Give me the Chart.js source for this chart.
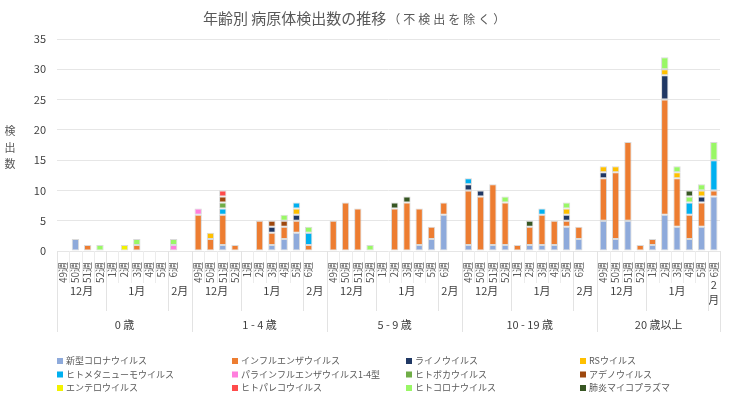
<!DOCTYPE html>
<html lang="ja">
<head>
<meta charset="utf-8">
<title>年齢別 病原体検出数の推移</title>
<script src="https://cdn.jsdelivr.net/npm/chart.js@4/dist/chart.umd.min.js"></script>
<style>
  html, body { margin: 0; padding: 0; background: #fff; }
  canvas { display: block; }
</style>
</head>
<body>
<canvas id="myChart" width="740" height="398"></canvas>
<script>
// 週・月・年齢のラベル
const weeks = ['49週', '50週', '51週', '52週', '1週', '2週', '3週', '4週', '5週', '6週'];
const monthNames = ['12月', '1月', '2月'];
const monthSpans = [4, 5, 1];          // 12月=49〜52週, 1月=1〜5週, 2月=6週
const ageGroups = ['0 歳', '1 - 4 歳', '5 - 9 歳', '10 - 19 歳', '20 歳以上'];

// 各ウイルスの検出数（年齢群ごとに 49週〜6週 の10件ずつ）
const covid = [0,2,0,0,0,0,0,0,0,0,  0,0,1,0,0,0,1,2,3,0,  0,0,0,0,0,0,0,1,2,6,  1,0,1,1,0,1,1,1,4,2,  5,2,5,0,1,6,4,2,4,9];
const flu = [0,0,1,0,0,0,1,0,0,0,  6,2,5,1,0,5,2,2,2,1,  5,8,7,0,0,7,8,6,2,2,  9,9,10,7,1,3,5,4,1,2,  7,11,13,1,1,19,8,4,4,1];
const rhino = [0,0,0,0,0,0,0,0,0,0,  0,0,0,0,0,0,1,0,1,0,  0,0,0,0,0,0,0,0,0,0,  1,1,0,0,0,0,0,0,1,0,  1,0,0,0,0,4,0,0,1,0];
const rsv = [0,0,0,0,0,0,0,0,0,0,  0,1,0,0,0,0,0,0,1,0,  0,0,0,0,0,0,0,0,0,0,  0,0,0,0,0,0,0,0,1,0,  1,1,0,0,0,1,1,0,1,0];
const hmpv = [0,0,0,0,0,0,0,0,0,0,  0,0,1,0,0,0,0,0,1,2,  0,0,0,0,0,0,0,0,0,0,  1,0,0,0,0,0,1,0,0,0,  0,0,0,0,0,0,0,2,0,5];
const para = [0,0,0,0,0,0,0,0,0,1,  1,0,0,0,0,0,0,0,0,0,  0,0,0,0,0,0,0,0,0,0,  0,0,0,0,0,0,0,0,0,0,  0,0,0,0,0,0,0,0,0,0];
const boca = [0,0,0,0,0,0,0,0,0,0,  0,0,1,0,0,0,0,0,0,0,  0,0,0,0,0,0,0,0,0,0,  0,0,0,0,0,0,0,0,0,0,  0,0,0,0,0,0,0,0,0,0];
const adeno = [0,0,0,0,0,0,0,0,0,0,  0,0,1,0,0,0,1,1,0,0,  0,0,0,0,0,0,0,0,0,0,  0,0,0,0,0,0,0,0,0,0,  0,0,0,0,0,0,0,0,0,0];
const entero = [0,0,0,0,0,1,0,0,0,0,  0,0,0,0,0,0,0,0,0,0,  0,0,0,0,0,0,0,0,0,0,  0,0,0,0,0,0,0,0,0,0,  0,0,0,0,0,0,0,0,0,0];
const pareco = [0,0,0,0,0,0,0,0,0,0,  0,0,1,0,0,0,0,0,0,0,  0,0,0,0,0,0,0,0,0,0,  0,0,0,0,0,0,0,0,0,0,  0,0,0,0,0,0,0,0,0,0];
const hcov = [0,0,0,1,0,0,1,0,0,1,  0,0,0,0,0,0,0,1,0,1,  0,0,0,1,0,0,0,0,0,0,  0,0,0,1,0,0,0,0,1,0,  0,0,0,0,0,2,1,1,1,3];
const mycoplasma = [0,0,0,0,0,0,0,0,0,0,  0,0,0,0,0,0,0,0,0,0,  0,0,0,0,0,1,1,0,0,0,  0,0,0,0,0,1,0,0,0,0,  0,0,0,0,0,0,0,1,0,0];

const series = [
  { label: '新型コロナウイルス', data: covid, color: '#8eaadb' },
  { label: 'インフルエンザウイルス', data: flu, color: '#ed7d31' },
  { label: 'ライノウイルス', data: rhino, color: '#203864' },
  { label: 'RSウイルス', data: rsv, color: '#ffc000' },
  { label: 'ヒトメタニューモウイルス', data: hmpv, color: '#00b0f0' },
  { label: 'パラインフルエンザウイルス1-4型', data: para, color: '#ff7fdd' },
  { label: 'ヒトボカウイルス', data: boca, color: '#70ad47' },
  { label: 'アデノウイルス', data: adeno, color: '#9e480e' },
  { label: 'エンテロウイルス', data: entero, color: '#f2f200' },
  { label: 'ヒトパレコウイルス', data: pareco, color: '#ff4b4b' },
  { label: 'ヒトコロナウイルス', data: hcov, color: '#99f766' },
  { label: '肺炎マイコプラズマ', data: mycoplasma, color: '#375623' }
];

const FONT = "'Noto Sans CJK JP', 'Noto Sans', sans-serif";

// 年齢群の間に空の列を1つずつ入れる
const labels = [];
ageGroups.forEach((g, gi) => {
  weeks.forEach(w => labels.push(w));
  if (gi < ageGroups.length - 1) labels.push('');
});

function spread(values) {
  const out = [];
  ageGroups.forEach((g, gi) => {
    for (let i = 0; i < weeks.length; i++) {
      const v = values[gi * weeks.length + i];
      out.push(v === 0 ? null : v);
    }
    if (gi < ageGroups.length - 1) out.push(null);
  });
  return out;
}

const datasets = series.map(s => ({
  label: s.label,
  data: spread(s.data),
  backgroundColor: s.color,
  borderColor: 'rgba(150,150,150,0.35)',
  borderWidth: 1,
  borderSkipped: false,
  categoryPercentage: 1.0,
  barPercentage: 0.6
}));

// タイトル・軸タイトル・多段ラベル・凡例を描く
const decorations = {
  id: 'decorations',
  afterDraw(chart) {
    const ctx = chart.ctx;
    const x = chart.scales.x;
    const area = chart.chartArea;
    const slot = x.getPixelForValue(1) - x.getPixelForValue(0);
    const left = i => x.getPixelForValue(i) - slot / 2;
    const bottom = area.bottom;

    ctx.save();

    // タイトル
    ctx.fillStyle = '#595959';
    ctx.textBaseline = 'middle';
    ctx.textAlign = 'left';
    ctx.font = '15px ' + FONT;
    const main = '年齢別 病原体検出数の推移';
    const sub = '（不検出を除く）';
    const mainW = ctx.measureText(main).width;
    ctx.fillText(main, 203, 18);
    ctx.font = '12px ' + FONT;
    const subPitch = 15;
    [...sub].forEach((c, i) => ctx.fillText(c, 203 + mainW + 2 + i * subPitch, 19));

    // 縦軸タイトル
    ctx.font = '11px ' + FONT;
    ctx.textAlign = 'center';
    [...'検出数'].forEach((c, i) => ctx.fillText(c, 10, 131 + i * 16.5));

    // 区切り線
    ctx.lineWidth = 1;
    const vline = (px, y2, col) => {
      ctx.strokeStyle = col;
      ctx.beginPath();
      ctx.moveTo(Math.round(px) + 0.5, bottom);
      ctx.lineTo(Math.round(px) + 0.5, y2);
      ctx.stroke();
    };

    let idx = 0;
    ageGroups.forEach((g, gi) => {
      const gStart = idx;
      const gLen = weeks.length + (gi < ageGroups.length - 1 ? 1 : 0);
      // 週の区切り
      for (let i = 1; i < weeks.length; i++) vline(left(gStart + i), bottom + 32, '#ececec');
      // 月
      let m = gStart;
      ctx.fillStyle = '#404040';
      ctx.font = '11px ' + FONT;
      monthSpans.forEach((span, mi) => {
        let len = span;
        if (mi === monthSpans.length - 1) len = gStart + gLen - m;
        const x0 = left(m);
        const x1 = left(m) + len * slot;
        const name = monthNames[mi];
        const tw = ctx.measureText(name).width;
        if (tw < x1 - x0 - 2) {
          ctx.fillText(name, (x0 + x1) / 2, bottom + 40);
        } else {
          [...name].forEach((c, ci) => ctx.fillText(c, (x0 + x1) / 2, bottom + 34 + ci * 15));
        }
        if (mi > 0) vline(x0, bottom + 60, '#e3e3e3');
        m += span;
      });
      // 年齢群
      const ax0 = left(gStart);
      const ax1 = ax0 + gLen * slot;
      ctx.fillText(g, (ax0 + ax1) / 2, bottom + 74);
      vline(ax0, bottom + 81, '#e3e3e3');
      idx += gLen;
    });
    vline(area.right, bottom + 81, '#e3e3e3');

    // 凡例
    const colX = [60, 235, 409, 583];
    const rowY = [361, 374.5, 388];
    ctx.font = '9px ' + FONT;
    ctx.textAlign = 'left';
    chart.data.datasets.forEach((ds, i) => {
      const cx = colX[i % 4];
      const cy = rowY[Math.floor(i / 4)];
      ctx.fillStyle = ds.backgroundColor;
      ctx.fillRect(cx - 3, cy - 3, 6, 6);
      ctx.fillStyle = '#595959';
      ctx.fillText(ds.label, cx + 6, cy);
    });

    ctx.restore();
  }
};

const config = {
  type: 'bar',
  data: { labels: labels, datasets: datasets },
  options: {
    responsive: false,
    animation: false,
    layout: { padding: { top: 39, right: 20, left: 0, bottom: 0 } },
    plugins: {
      legend: { display: false },
      title: { display: false },
      tooltip: { enabled: false }
    },
    scales: {
      x: {
        stacked: true,
        grid: { display: false },
        border: { display: false },
        ticks: {
          autoSkip: false,
          minRotation: 90,
          maxRotation: 90,
          padding: 3,
          color: '#595959',
          font: { size: 10, family: FONT }
        },
        afterFit: s => { s.height = 147; }
      },
      y: {
        stacked: true,
        min: 0,
        max: 35,
        ticks: { stepSize: 5, padding: 11, color: '#404040', font: { size: 11, family: FONT } },
        grid: { color: '#e6e6e6', drawTicks: false },
        border: { display: false },
        afterFit: s => { s.width = 57; }
      }
    }
  },
  plugins: [decorations]
};

const ctx = document.getElementById('myChart').getContext('2d');
const myChart = new Chart(ctx, config);
</script>
</body>
</html>
